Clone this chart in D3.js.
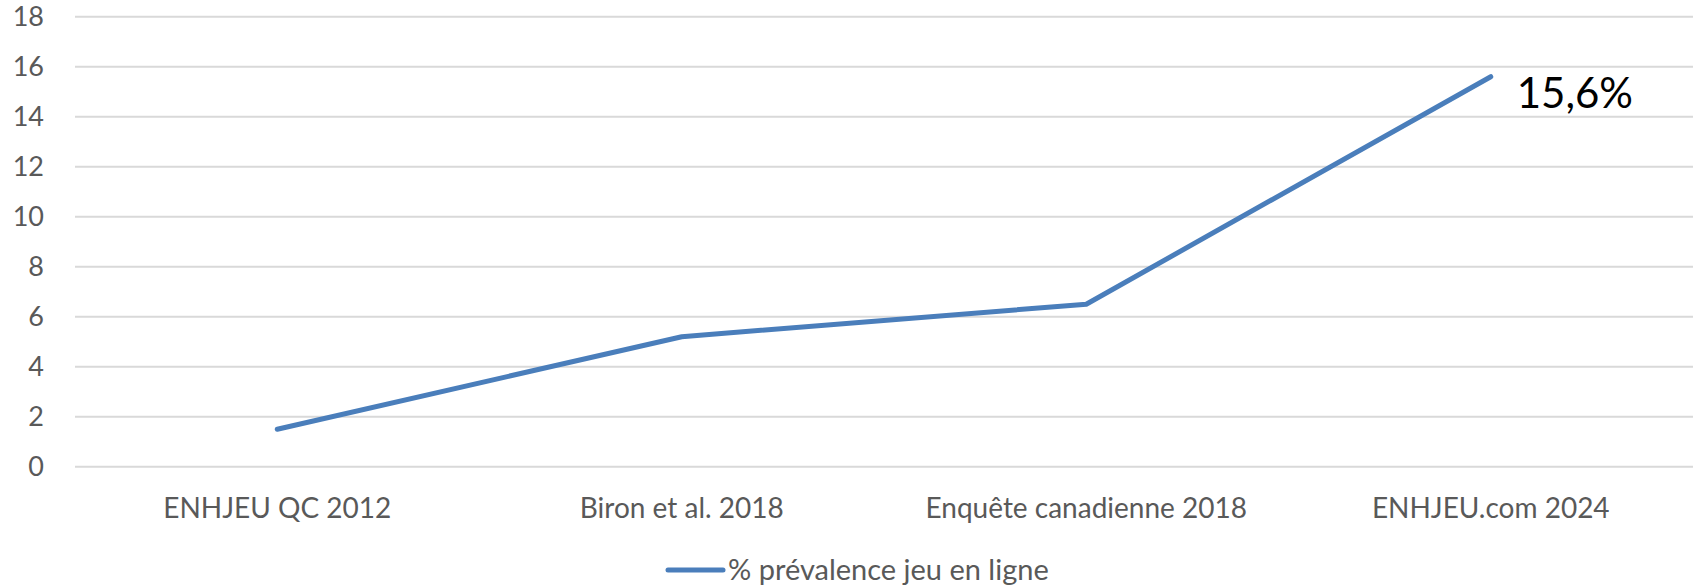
<!DOCTYPE html>
<html>
<head>
<meta charset="utf-8">
<script src="https://cdn.jsdelivr.net/npm/d3@7"></script>
<style>
  body { margin: 0; background: #fff; }
  svg text { font-family: Lato, "Open Sans", sans-serif; }
</style>
</head>
<body>
<div id="chart"></div>
<script>
const categories = ["ENHJEU QC 2012", "Biron et al. 2018", "Enquête canadienne 2018", "ENHJEU.com 2024"];
const prevalence = [1.5, 5.2, 6.5, 15.6];
const yTicks = [0, 2, 4, 6, 8, 10, 12, 14, 16, 18];
const seriesName = "% prévalence jeu en ligne";
const lastLabel = "15,6%";

const W = 1698, H = 587;
const margin = {top: 16.7, right: 5, bottom: 120.3, left: 75};
const width = W - margin.left - margin.right,
    height = H - margin.top - margin.bottom;
const lineColor = '#4a7ebb';
const textColor = '#595959';

const svg = d3.select('#chart').append('svg')
    .attr('width', W)
    .attr('height', H);

const g = svg.append('g')
    .attr('transform', `translate(${margin.left},${margin.top})`);

const x = d3.scaleBand()
    .domain(categories)
    .range([0, width]);

const y = d3.scaleLinear()
    .domain([0, 18])
    .range([height, 0]);

// gridlines
g.append('g')
    .selectAll('line')
    .data(yTicks)
    .enter()
    .append('line')
    .attr('x1', 0)
    .attr('x2', width)
    .attr('y1', d => y(d))
    .attr('y2', d => y(d))
    .attr('stroke', '#d9d9d9')
    .attr('stroke-width', 2);

// y axis labels
const yAxis = g.append('g')
    .attr('transform', 'translate(-31,0)')
    .call(d3.axisLeft(y).tickValues(yTicks).tickSize(0).tickPadding(0));
yAxis.select('.domain').remove();
yAxis.selectAll('text')
    .attr('fill', textColor)
    .style('font-size', '27px');

// x axis labels
const xAxis = g.append('g')
    .attr('transform', `translate(0,${height})`)
    .call(d3.axisBottom(x).tickSize(0).tickPadding(0));
xAxis.select('.domain').remove();
xAxis.selectAll('text')
    .attr('dy', null)
    .attr('y', 51)
    .attr('fill', textColor)
    .style('font-size', '28px');

// series line
const line = d3.line()
    .x((d, i) => x(categories[i]) + x.bandwidth() / 2)
    .y(d => y(d));

g.append('path')
    .datum(prevalence)
    .attr('fill', 'none')
    .attr('stroke', lineColor)
    .attr('stroke-width', 5)
    .attr('stroke-linecap', 'round')
    .attr('stroke-linejoin', 'round')
    .attr('d', line);

// label on last point
const lastI = prevalence.length - 1;
g.append('text')
    .attr('x', x(categories[lastI]) + x.bandwidth() / 2 + 26)
    .attr('y', y(prevalence[lastI]) + 31)
    .attr('fill', '#000')
    .style('font-size', '42px')
    .text(lastLabel);

// legend
const legend = svg.append('g')
    .attr('transform', 'translate(668,570)');
legend.append('line')
    .attr('x1', 0)
    .attr('x2', 55)
    .attr('stroke', lineColor)
    .attr('stroke-width', 5)
    .attr('stroke-linecap', 'round');
legend.append('text')
    .attr('x', 60)
    .attr('y', 10)
    .attr('fill', textColor)
    .style('font-size', '29px')
    .text(seriesName);
</script>
</body>
</html>
